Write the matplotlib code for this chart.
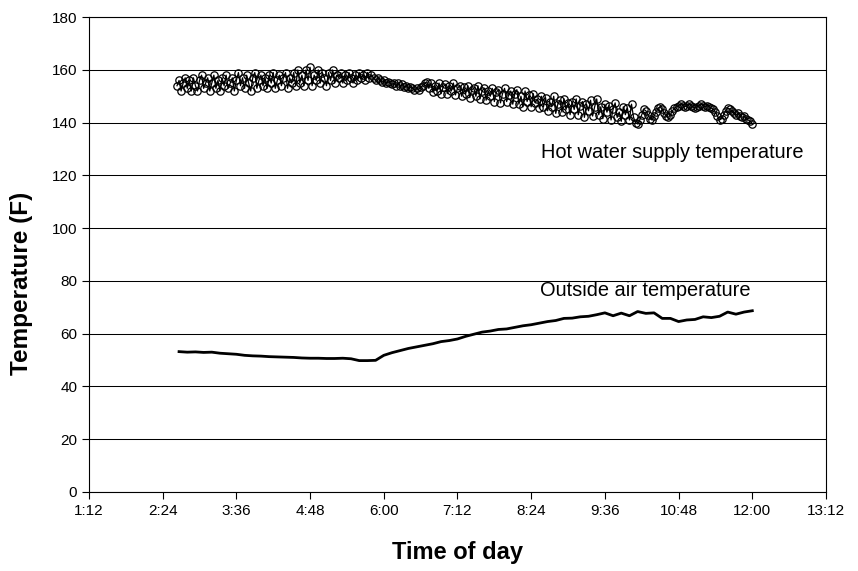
import numpy as np
import matplotlib
matplotlib.use("Agg")
import matplotlib.pyplot as plt

plt.rcParams["font.family"] = ["Liberation Sans", "DejaVu Sans"]

# time axis (minutes after midnight)
tick_minutes = [72, 144, 216, 288, 360, 432, 504, 576, 648, 720, 792]
tick_labels = ["1:12", "2:24", "3:36", "4:48", "6:00", "7:12",
               "8:24", "9:36", "10:48", "12:00", "13:12"]

# hot water supply temperature, logged every 2 min from 2:38 to 12:00
hw_start, hw_step = 158, 2
hot_water = [
    154, 156, 152, 155, 157, 153, 156, 152, 157, 154, 152, 156, 158, 153, 155,
    157, 152, 155, 158, 153, 156, 152, 157, 154, 158, 153, 155, 157, 152, 156,
    159, 154, 157, 153, 158, 155, 152, 157, 159, 153, 156, 158, 154, 157, 153,
    158, 155, 159, 153, 156, 158, 154, 157, 159, 153, 157, 155, 159, 154, 160,
    155, 158, 154, 160, 156, 161, 154, 158, 156, 160, 155, 159, 157, 154, 159,
    156, 160, 155, 158, 157, 159, 155, 158, 156, 159, 157, 155, 158, 156, 159,
    157, 158, 156, 159, 157, 158, 157, 156, 157, 156, 155.5, 156, 155, 155.5, 155,
    154.5, 155, 154, 155, 154, 154.5, 153.5, 154, 153, 153.5, 153, 152.5, 153, 152.5, 153.5,
    154, 155, 155.5, 153, 155, 151.5, 154, 152, 155, 151, 153.5, 154.5, 151, 154, 152,
    155, 150.5, 153, 154, 150, 153.5, 151, 154, 149.5, 152.5, 153, 150, 154, 149, 152,
    153, 148.5, 152, 150, 153, 148, 151.5, 152.5, 147.5, 151, 153, 148, 150.5, 152, 147,
    151, 152.5, 147, 150, 146, 152, 148, 150.5, 146, 151, 147.5, 149, 145.5, 150, 146,
    149.5, 144.5, 148, 146, 150, 143.5, 147, 148.5, 144, 149, 145, 147.5, 143, 148, 145,
    149, 143, 146.5, 148, 142, 147, 144.5, 148.5, 142.5, 146, 149, 143, 146, 141.5, 147,
    144, 146.5, 141, 145, 147.5, 142, 144, 140.5, 146, 143, 145.5, 141, 147, 142, 140,
    139.5, 141, 143, 145, 144.5, 143, 141.5, 141, 142.5, 144, 145.5, 146, 145, 143.5, 142.5,
    142, 143, 144.5, 145.5, 146, 146.5, 147, 146.5, 146, 146.5, 147, 146.5, 146, 145.5, 146,
    146.5, 147, 146.5, 146, 146.5, 146, 145.5, 145, 144, 142.5, 141, 141.5, 143, 144.5, 145.5,
    145, 144.5, 143.5, 143, 143.5, 142.5, 142, 142.5, 141.5, 141, 140.5, 139.5,
]

# outside air temperature, every 8 min from 2:40 to 12:00
oa_start, oa_step = 160, 8
outside_air = [
    53.2, 53.0, 53.1, 52.9, 53.0, 52.6, 52.4, 52.2, 51.8, 51.6,
    51.5, 51.3, 51.2, 51.1, 51.0, 50.8, 50.7, 50.7, 50.6, 50.6,
    50.7, 50.5, 49.8, 49.8, 49.9, 51.8, 52.8, 53.6, 54.4, 55.0,
    55.6, 56.2, 57.0, 57.4, 58.0, 59.0, 59.8, 60.6, 61.0, 61.6,
    61.8, 62.4, 63.0, 63.4, 64.0, 64.6, 65.0, 65.8, 65.9, 66.4,
    66.6, 67.2, 67.9, 66.8, 67.8, 66.8, 68.4, 67.7, 67.9, 65.8,
    65.8, 64.6, 65.2, 65.4, 66.4, 66.1, 66.6, 68.2, 67.4, 68.2,
    68.7,
]

hw_time = hw_start + hw_step * np.arange(len(hot_water))
oa_time = oa_start + oa_step * np.arange(len(outside_air))

fig = plt.figure(figsize=(8.58, 5.71), dpi=100)
ax = fig.add_axes([0.1037, 0.1384, 0.859, 0.8316])

ax.plot(hw_time, hot_water, color="black", linewidth=0.9, marker="o",
        markersize=5.3, markerfacecolor="none", markeredgecolor="black",
        markeredgewidth=0.9, zorder=3)
ax.plot(oa_time, outside_air, color="black", linewidth=2.0, zorder=3)

ax.text(513.5, 128.5, "Hot water supply temperature", fontsize=14.4,
        va="center", ha="left")
ax.text(512.5, 76.5, "Outside air temperature", fontsize=14.4,
        va="center", ha="left")

ax.set_xlim(72, 792)
ax.set_ylim(0, 180)
ax.set_xticks(tick_minutes)
ax.set_xticklabels(tick_labels)
ax.set_yticks(np.arange(0, 181, 20))
ax.tick_params(direction="out", length=5, width=0.8, labelsize=11,
               colors="black")
ax.yaxis.grid(True, color="black", linewidth=0.75)
ax.set_axisbelow(True)
for sp in ax.spines.values():
    sp.set_color("black")
    sp.set_linewidth(0.8)

fig.text(457 / 858, 1 - 552 / 571, "Time of day", fontsize=17,
         fontweight="bold", ha="center", va="center")
fig.text(22 / 858, 1 - 283 / 571, "Temperature (F)", fontsize=17.5,
         fontweight="bold", ha="center", va="center", rotation=90)

fig.savefig("out.png", dpi=100)
plt.close(fig)
